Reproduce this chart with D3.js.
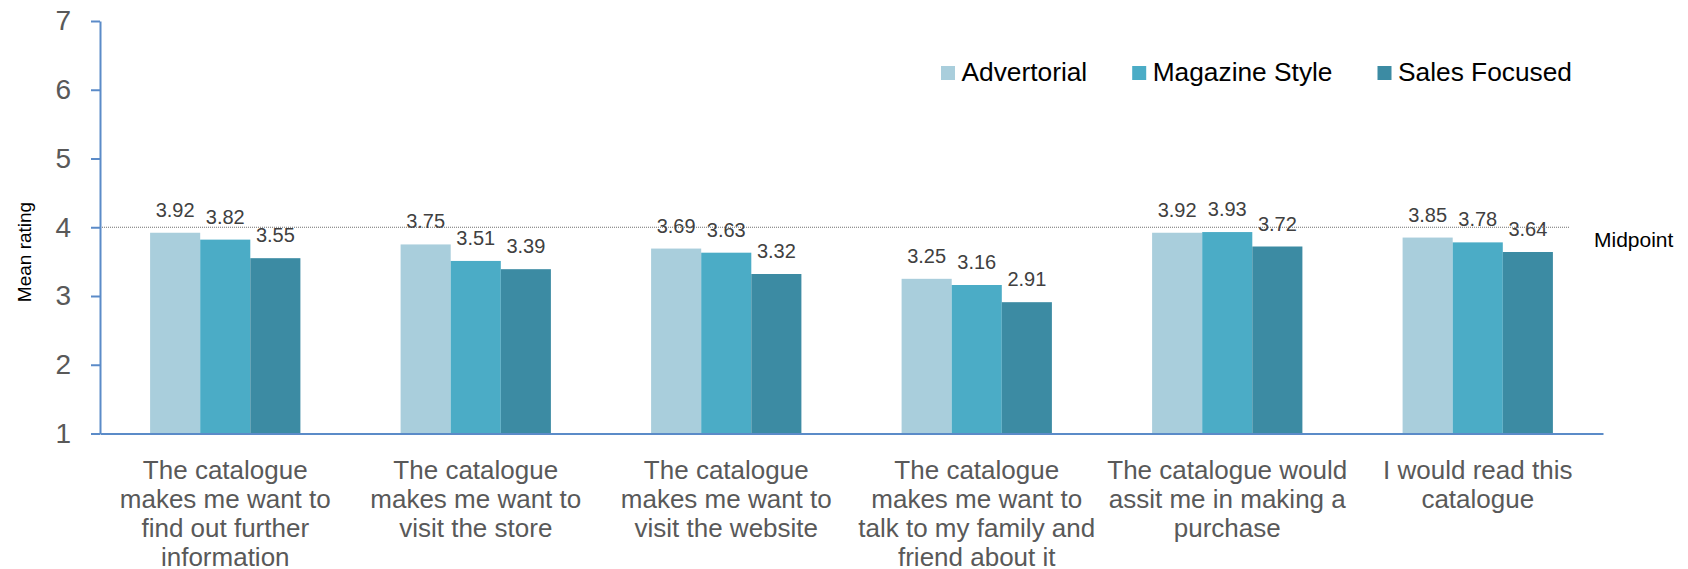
<!DOCTYPE html>
<html><head><meta charset="utf-8">
<script src="https://cdn.jsdelivr.net/npm/d3@7"></script>
<style>body{margin:0;background:#fff;} text{font-family:"Liberation Sans",Arial,sans-serif;}</style>
</head><body><svg id="c" width="1688" height="569"></svg>
<script>
const categories = [
  "The catalogue\nmakes me want to\nfind out further\ninformation",
  "The catalogue\nmakes me want to\nvisit the store",
  "The catalogue\nmakes me want to\nvisit the website",
  "The catalogue\nmakes me want to\ntalk to my family and\nfriend about it",
  "The catalogue would\nassit me in making a\npurchase",
  "I would read this\ncatalogue"
];
const seriesNames = ["Advertorial", "Magazine Style", "Sales Focused"];
const advertorial = [3.92, 3.75, 3.69, 3.25, 3.92, 3.85];
const magazineStyle = [3.82, 3.51, 3.63, 3.16, 3.93, 3.78];
const salesFocused = [3.55, 3.39, 3.32, 2.91, 3.72, 3.64];
const yTicks = [1, 2, 3, 4, 5, 6, 7];
const midpointValue = 4;
const midpointLabel = "Midpoint";
const yTitle = "Mean rating";

(function () {
const colors = ["#a9cedc", "#4bacc6", "#3c8ba3"];
const seriesValues = [advertorial, magazineStyle, salesFocused];

const svg = d3.select("#c");
const pLeft = 100, pRight = 1603, pTop = 21, pBottom = 433.5;
const axisColor = "#5b8bc8";

const x0 = d3.scaleBand().domain(categories).range([pLeft, pRight]).padding(0);
const bw = x0.bandwidth();
const x1 = d3.scaleBand().domain(seriesNames).range([bw * 0.2, bw * 0.8]).padding(0);
const y = d3.scaleLinear().domain([1, 7]).range([pBottom, pTop]);

// bars
const groups = svg.append("g").selectAll("g").data(categories).join("g")
  .attr("transform", d => `translate(${x0(d)},0)`);
groups.selectAll("rect")
  .data((d, i) => seriesNames.map((s, j) => ({s, v: seriesValues[j][i], j})))
  .join("rect")
  .attr("x", d => x1(d.s))
  .attr("width", x1.bandwidth())
  .attr("y", d => y(d.v))
  .attr("height", d => y(1) - y(d.v))
  .attr("fill", d => colors[d.j]);

// midpoint line
svg.append("line")
  .attr("x1", pLeft).attr("x2", 1570)
  .attr("y1", y(midpointValue)).attr("y2", y(midpointValue))
  .attr("stroke", "#707070").attr("stroke-width", 1).attr("stroke-dasharray", "1,1");
svg.append("text").attr("x", 1594).attr("y", y(midpointValue) + 20)
  .attr("font-size", 21).attr("fill", "#000").text(midpointLabel);

// data labels
groups.selectAll("text.v")
  .data((d, i) => seriesNames.map((s, j) => ({s, v: seriesValues[j][i], j})))
  .join("text").attr("class", "v")
  .attr("x", d => x1(d.s) + x1.bandwidth() / 2)
  .attr("y", d => y(d.v) - 16)
  .attr("text-anchor", "middle")
  .attr("font-size", 20).attr("fill", "#404040")
  .text(d => d.v.toFixed(2));

// y axis
const ya = svg.append("g").attr("transform", `translate(${pLeft},0)`)
  .call(d3.axisLeft(y).tickValues(yTicks).tickSize(9).tickSizeOuter(0).tickPadding(20).tickFormat(d3.format("d")));
ya.select(".domain").attr("stroke", axisColor).attr("stroke-width", 2);
ya.selectAll(".tick line").attr("stroke", axisColor).attr("stroke-width", 2);
ya.selectAll(".tick text").attr("font-size", 28).attr("fill", "#595959")
  .attr("font-family", "'Liberation Sans',Arial,sans-serif");

// x axis
const xa = svg.append("g").attr("transform", `translate(0,${pBottom})`)
  .call(d3.axisBottom(x0).tickSize(0).tickSizeOuter(0).tickFormat(""));
xa.select(".domain").attr("stroke", axisColor).attr("stroke-width", 2);
xa.selectAll(".tick").each(function(d) {
  const t = d3.select(this).append("text")
    .attr("text-anchor", "middle").attr("font-size", 26).attr("fill", "#595959")
    .attr("font-family", "'Liberation Sans',Arial,sans-serif");
  d.split("\n").forEach((line, i) => {
    t.append("tspan").attr("x", 0).attr("y", 45 + i * 29).text(line);
  });
});

// y title
svg.append("text").attr("transform", "translate(31,252) rotate(-90)")
  .attr("text-anchor", "middle").attr("font-size", 19).attr("fill", "#000").text(yTitle);

// legend
let lx = 941;
seriesNames.forEach((s, j) => {
  svg.append("rect").attr("x", lx).attr("y", 66).attr("width", 14).attr("height", 14).attr("fill", colors[j]);
  const t = svg.append("text").attr("x", lx + 20.5).attr("y", 81).attr("font-size", 26.3).attr("fill", "#000").text(s);
  lx += 20.5 + t.node().getComputedTextLength() + 45;
});
})();
</script></body></html>
